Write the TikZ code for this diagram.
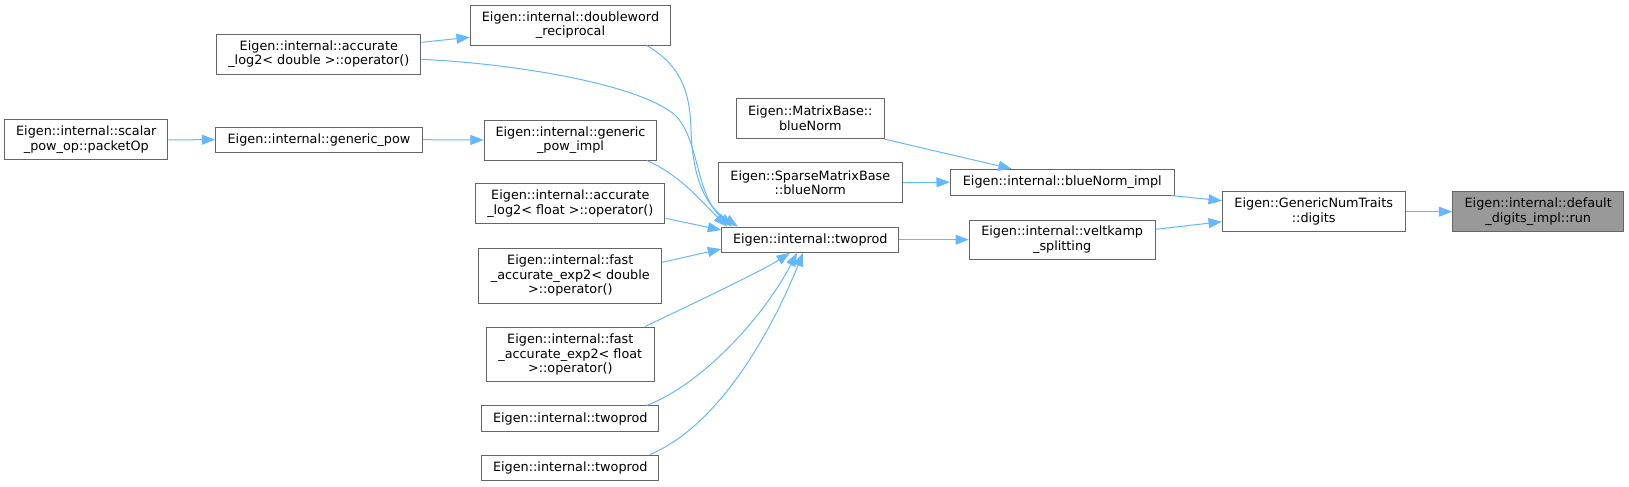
\documentclass[tikz,border=0pt]{standalone}
\usepackage{fontspec}
\setmainfont{DejaVu Sans}
\usetikzlibrary{arrows.meta}
\definecolor{edgeblue}{HTML}{63B8FF}
\definecolor{boxgray}{HTML}{666666}
\definecolor{fillgray}{HTML}{999999}
\tikzset{
  fn/.style={draw=boxgray, fill=white, line width=0.75pt, align=center, inner sep=0pt,
    font=\fontsize{9.6}{11}\selectfont},
  hilite/.style={fn, fill=fillgray},
  calls/.style={draw=edgeblue, line width=0.75pt, -{Triangle[length=10pt,width=7.5pt]}},
}
\begin{document}
\begin{tikzpicture}[x=0.75pt,y=-0.75pt]
\useasboundingbox (0,0) rectangle (1629,486);
% nodes
\node[fn, minimum width=122.5pt, minimum height=30.2pt] (sp) at (86.3,139.8) {Eigen::internal::scalar\\\_pow\_op::packetOp};
\node[fn, minimum width=155pt, minimum height=19pt] (gp) at (319,139.7) {Eigen::internal::generic\_pow};
\node[fn, minimum width=153.2pt, minimum height=30pt] (l2d) at (318.8,54.3) {Eigen::internal::accurate\\\_log2< double >::operator()};
\node[fn, minimum width=150.3pt, minimum height=30pt] (dw) at (570.5,25) {Eigen::internal::doubleword\\\_reciprocal};
\node[fn, minimum width=129.3pt, minimum height=30pt] (gpi) at (570.5,140) {Eigen::internal::generic\\\_pow\_impl};
\node[fn, minimum width=142pt, minimum height=30pt] (l2f) at (570.3,203.7) {Eigen::internal::accurate\\\_log2< float >::operator()};
\node[fn, minimum width=137pt, minimum height=41pt] (fed) at (570.3,275.7) {Eigen::internal::fast\\\_accurate\_exp2< double\\>::operator()};
\node[fn, minimum width=126pt, minimum height=41.2pt] (fef) at (570.3,354.5) {Eigen::internal::fast\\\_accurate\_exp2< float\\>::operator()};
\node[fn, minimum width=133pt, minimum height=18.8pt] (tpa) at (570.3,418.5) {Eigen::internal::twoprod};
\node[fn, minimum width=133pt, minimum height=19pt] (tpb) at (570.3,467.7) {Eigen::internal::twoprod};
\node[fn, minimum width=133pt, minimum height=19pt] (tp) at (810.3,239.7) {Eigen::internal::twoprod};
\node[fn, minimum width=111pt, minimum height=30.3pt] (mb) at (810.3,118.5) {Eigen::MatrixBase::\\blueNorm};
\node[fn, minimum width=138pt, minimum height=30pt] (smb) at (810.3,182.7) {Eigen::SparseMatrixBase\\::blueNorm};
\node[fn, minimum width=168pt, minimum height=19.3pt] (bni) at (1062.3,182.2) {Eigen::internal::blueNorm\_impl};
\node[fn, minimum width=139.3pt, minimum height=29.5pt] (vs) at (1062.2,239.7) {Eigen::internal::veltkamp\\\_splitting};
\node[fn, minimum width=137pt, minimum height=30pt] (dig) at (1313.7,211.7) {Eigen::GenericNumTraits\\::digits};
\node[hilite, minimum width=128.3pt, minimum height=30pt] (def) at (1538.2,211.7) {Eigen::internal::default\\\_digits\_impl::run};
% edges
\draw[calls] (sp.east) -- (gp.west);
\draw[calls] (gp.east) -- (gpi.west);
\draw[calls] (l2d.east |- 0,42.3) -- (dw.west |- 0,37.3);
\draw[calls] (l2d.east |- 0,59.3) .. controls (520,64) and (640,85) .. (675,115)
  .. controls (700,140) and (695,195) .. (tp.north -| 732,0);
\draw[calls] (dw.south -| 646.7,0) .. controls (680,65) and (690,90) .. (691,130)
  .. controls (693,190) and (712,210) .. (tp.north -| 738,0);
\draw[calls] (gpi.south -| 646.7,0) .. controls (680,175) and (700,200) .. (tp.north -| 727,0);
\draw[calls] (l2f.east |- 0,218.3) -- (tp.west |- 0,230);
\draw[calls] (fed.east |- 0,262.3) -- (tp.west |- 0,249);
\draw[calls] (fef.north -| 645,0) .. controls (690,305) and (760,272) .. (tp.south -| 790,0);
\draw[calls] (tpa.north -| 646.7,0) .. controls (700,385) and (762,320) .. (tp.south -| 797,0);
\draw[calls] (tpb.north -| 650,0) .. controls (720,425) and (772,330) .. (tp.south -| 803,0);
\draw[calls] (tp.east) -- (vs.west);
\draw[calls] (mb.south east) -- (bni.north -| 1011.7,0);
\draw[calls] (smb.east) -- (bni.west);
\draw[calls] (bni.south -| 1171.5,0) -- (dig.west |- 0,200.7);
\draw[calls] (vs.east |- 0,229.3) -- (dig.west |- 0,221.7);
\draw[calls] (dig.east) -- (def.west);
\end{tikzpicture}
\end{document}
